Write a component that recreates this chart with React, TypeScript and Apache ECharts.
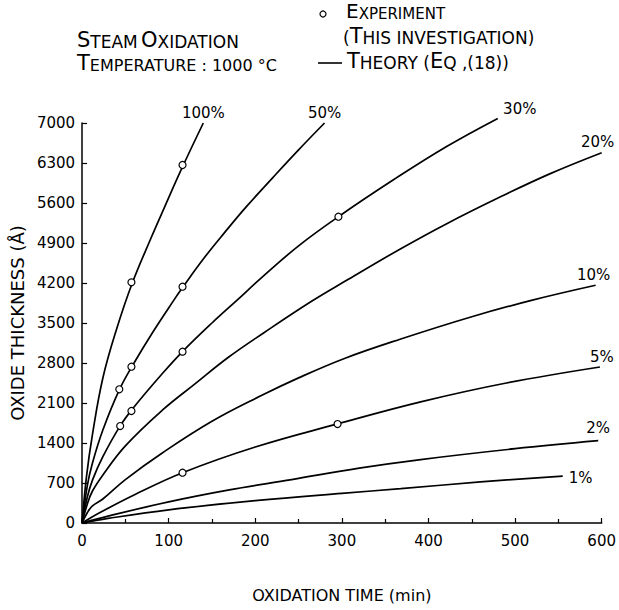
import React, { useEffect, useRef } from "react";
import * as echarts from "echarts";

const FONT = "DejaVu Sans";

// Theory curves: [time (min), thickness (Å)]
const theory100 = [[0, 0], [5, 800], [12, 1550], [24, 2537], [40, 3400], [58, 4200], [80, 5000], [95, 5520], [115, 6200], [140, 7000]];
const theory50 = [[0, 0], [6, 650], [12, 1050], [24, 1627], [43, 2330], [60, 2800], [80, 3300], [106, 3900], [116, 4120], [140, 4620], [165, 5090], [190, 5540], [220, 6040], [250, 6530], [280, 7000]];
const theory30 = [[0, 0], [6, 450], [12, 750], [24, 1160], [44, 1700], [60, 2030], [93, 2620], [116, 3000], [150, 3500], [179, 3900], [207, 4290], [250, 4850], [296, 5360], [360, 6010], [420, 6580], [480, 7080]];
const theory20 = [[0, 0], [6, 330], [12, 560], [24, 840], [50, 1350], [93, 1978], [130, 2430], [169, 2900], [210, 3330], [265, 3880], [307, 4260], [368, 4800], [420, 5230], [482, 5700], [540, 6110], [600, 6480]];
const theory10 = [[0, 0], [6, 180], [12, 300], [24, 420], [50, 760], [93, 1230], [150, 1780], [207, 2230], [250, 2540], [303, 2880], [368, 3220], [450, 3610], [520, 3900], [593, 4160]];
const theory5 = [[0, 0], [12, 110], [24, 210], [60, 490], [116, 880], [200, 1330], [294, 1730], [391, 2120], [490, 2450], [598, 2730]];
const theory2 = [[0, 0], [30, 120], [100, 370], [170, 580], [242, 760], [320, 960], [391, 1110], [500, 1300], [596, 1440]];
const theory1 = [[0, 0], [30, 80], [100, 230], [200, 390], [300, 520], [368, 600], [460, 720], [555, 822]];

// Experimental points
const exp100 = [[57, 4212], [116, 6265]];
const exp50 = [[43, 2340], [57, 2735], [116, 4135]];
const exp30 = [[44, 1697], [57, 1960], [116, 2998], [296, 5360]];
const exp5 = [[116, 880], [295, 1732]];

const curveLabels = ["100%", "50%", "30%", "20%", "10%", "5%", "2%", "1%"];
const xTicks = [0, 100, 200, 300, 400, 500, 600];
const yTicks = [0, 700, 1400, 2100, 2800, 3500, 4200, 4900, 5600, 6300, 7000];

export default function App() {
  const ref = useRef<HTMLDivElement>(null);
  useEffect(() => {
    if (!ref.current) return;
    const chart = echarts.init(ref.current, null, { renderer: "svg" });
    const curves = [theory100, theory50, theory30, theory20, theory10, theory5, theory2, theory1];
    const labelPos: any[] = [
      { align: "center", verticalAlign: "bottom", offset: [0, -3] },
      { align: "center", verticalAlign: "bottom", offset: [0, -3] },
      { align: "center", verticalAlign: "bottom", offset: [22, -2] },
      { align: "center", verticalAlign: "bottom", offset: [-4, -3] },
      { align: "center", verticalAlign: "bottom", offset: [-2, -3] },
      { align: "center", verticalAlign: "bottom", offset: [2, -3] },
      { align: "center", verticalAlign: "bottom", offset: [0, -5] },
      { align: "left", verticalAlign: "middle", offset: [6, 2] },
    ];
    const lineSeries = curves.map((d, i) => ({
      type: "line",
      data: d,
      symbol: "none",
      smooth: 0.4,
      clip: false,
      silent: true,
      lineStyle: { color: "#000", width: 1.7 },
      endLabel: {
        show: true,
        formatter: curveLabels[i],
        distance: 0,
        color: "#000",
        fontFamily: FONT,
        fontSize: 15,
        ...labelPos[i],
      },
      z: 2,
    }));
    const scatterSeries = [exp100, exp50, exp30, exp5].map((d) => ({
      type: "scatter",
      data: d,
      symbol: "circle",
      symbolSize: 7,
      itemStyle: { color: "#fff", borderColor: "#000", borderWidth: 1.2, opacity: 1 },
      z: 5,
    }));
    const axisCommon = {
      axisLine: { show: true, lineStyle: { color: "#000", width: 1.5 } },
      axisTick: { show: true, inside: true, length: 5, lineStyle: { color: "#000", width: 1.2 } },
      splitLine: { show: false },
      axisLabel: { color: "#000", fontFamily: FONT, fontSize: 15 },
    };
    const mk = (big: number, small: number) => ({
      b: { fontSize: big, fontFamily: FONT, color: "#000", verticalAlign: "bottom", lineHeight: 24 },
      s: { fontSize: small, fontFamily: FONT, color: "#000", verticalAlign: "bottom", lineHeight: 24 },
    });
    chart.setOption({
      animation: false,
      backgroundColor: "#fff",
      grid: { left: 79, right: 16, top: 123, bottom: 87, containLabel: false },
      xAxis: {
        type: "value",
        min: 0,
        max: 600,
        interval: 100,
        ...axisCommon,
        minorTick: { show: true, splitNumber: 2, length: 4, lineStyle: { color: "#000", width: 1.2 } },
        axisLabel: { ...axisCommon.axisLabel, margin: 10, formatter: (v: number) => (xTicks.includes(v) ? String(v) : "") },
        name: "OXIDATION TIME (min)",
        nameLocation: "middle",
        nameGap: 64,
        nameTextStyle: { color: "#000", fontFamily: FONT, fontSize: 16 },
      },
      yAxis: {
        type: "value",
        min: 0,
        max: 7000,
        interval: 700,
        ...axisCommon,
        axisLabel: { ...axisCommon.axisLabel, margin: 7, formatter: (v: number) => (yTicks.includes(v) ? String(v) : "") },
        name: "OXIDE THICKNESS (Å)",
        nameLocation: "middle",
        nameRotate: 90,
        nameGap: 52,
        nameTextStyle: { color: "#000", fontFamily: FONT, fontSize: 18 },
      },
      graphic: [
        {
          type: "text",
          left: 77,
          top: 29,
          style: { text: "{b|S}{s|TEAM} {b|O}{s|XIDATION}", rich: mk(21, 17) },
        },
        {
          type: "text",
          left: 77,
          top: 52,
          style: { text: "{b|T}{s|EMPERATURE : 1000 °C}", rich: mk(21, 16) },
        },
        {
          type: "circle",
          shape: { cx: 323, cy: 14, r: 3 },
          style: { fill: "#fff", stroke: "#000", lineWidth: 1.2 },
        },
        {
          type: "text",
          left: 346,
          top: 1,
          style: { text: "{b|E}{s|XPERIMENT}", rich: mk(20, 15) },
        },
        {
          type: "text",
          left: 343,
          top: 25,
          style: { text: "{s|(}{b|T}{s|HIS INVESTIGATION)}", rich: mk(21, 17) },
        },
        {
          type: "line",
          shape: { x1: 318, y1: 63, x2: 342, y2: 63 },
          style: { stroke: "#000", lineWidth: 1.6 },
        },
        {
          type: "text",
          left: 347,
          top: 50,
          style: { text: "{b|T}{s|HEORY (}{b|E}{s|Q ,(18))}", rich: mk(21, 17) },
        },
      ],
      series: [...lineSeries, ...scatterSeries],
    });
    return () => chart.dispose();
  }, []);
  return <div ref={ref} style={{ position: "fixed", left: 0, top: 0, width: 619, height: 610 }} />;
}
